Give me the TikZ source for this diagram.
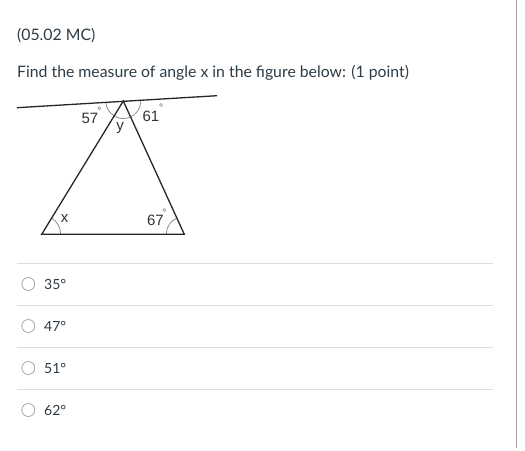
\documentclass[tikz,border=0pt]{standalone}
\usepackage{fontspec}
\setmainfont{Lato}
\newfontfamily\figfont{Liberation Sans}
\usetikzlibrary{calc,positioning}
\definecolor{inktext}{HTML}{2D3B45}
\definecolor{rulegray}{HTML}{DDDDDD}
\definecolor{arcgray}{HTML}{8C8C8C}
\tikzset{
  prompt/.style={anchor=base west,inner sep=0pt,text=inktext,font=\fontsize{15.8}{18}\selectfont},
  choice/.style={anchor=west,inner sep=0pt,text=inktext,font=\fontsize{14}{17}\selectfont},
  radio/.style={circle,draw=black!35,line width=0.8pt,minimum size=13pt,inner sep=0pt},
  sepline/.style={draw=rulegray,line width=0.9pt},
  figline/.style={draw=black!85,line width=1.3pt},
  anglearc/.style={draw=arcgray,line width=0.8pt},
  figlabel/.style={inner sep=0pt,text=black!80,font=\figfont\fontsize{15}{17}\selectfont},
  degmark/.style={circle,draw=arcgray,line width=0.5pt,minimum size=3pt,inner sep=0pt}
}
\begin{document}
\begin{tikzpicture}[x=1pt,y=-1pt]
        \useasboundingbox (0,0) rectangle (525,450);
        % header text
        \node[prompt] (code) at (17,40.5) {(05.02 MC)};
        \node[prompt] (question) at (17,77) {Find the measure of angle x in the figure below: (1 point)};
        % figure
        \coordinate (lineL) at (17,107.7);
        \coordinate (lineR) at (217,95.7);
        \coordinate (apex) at (123.3,101);
        \coordinate (baseL) at (41.7,234.3);
        \coordinate (baseR) at (184.3,234.3);
        \draw[anglearc] ($(apex)+(-17.47,1.04)$) arc[start angle=176.6,end angle=-3.4,radius=17.5];
        \draw[anglearc] ($(baseL)+(19,0)$) arc[start angle=0,end angle=-58.6,radius=19];
        \draw[anglearc] ($(baseR)+(-18,0)$) arc[start angle=180,end angle=245.5,radius=18];
        \draw[figline] (lineL) -- (lineR);
        \draw[figline] (apex) -- (baseL) -- (baseR) -- cycle;
        \node[figlabel] (ang57) at (90,118.3) {57};
        \node[degmark] (deg57) at (99.3,108.3) {};
        \node[figlabel] (ang61) at (151,116.5) {61};
        \node[degmark] (deg61) at (161,105) {};
        \node[figlabel] (angy) at (120,128.5) {y};
        \node[figlabel] (angx) at (64.5,219) {x};
        \node[figlabel] (ang67) at (155.5,220.5) {67};
        \node[degmark] (deg67) at (164.3,210) {};
        % answer choices
        \foreach \y/\ans [count=\i] in {284/35,326/47,368/51,410/62}{
          \node[radio] (radio\i) at (28.3,\y) {};
          \node[choice] (choice\i) at (44,\y) {\ans°};
        }
        \foreach \y [count=\i] in {263.3,305.5,347.5,389.7}{
          \coordinate (sepL\i) at (17,\y);
          \coordinate (sepR\i) at (493,\y);
          \draw[sepline] (sepL\i) -- (sepR\i);
        }
        \coordinate (frameT) at (516.7,0);
        \coordinate (frameB) at (516.7,448);
        \draw[draw=black!35,line width=1.3pt] (frameT) -- (frameB);
\end{tikzpicture}
\end{document}
